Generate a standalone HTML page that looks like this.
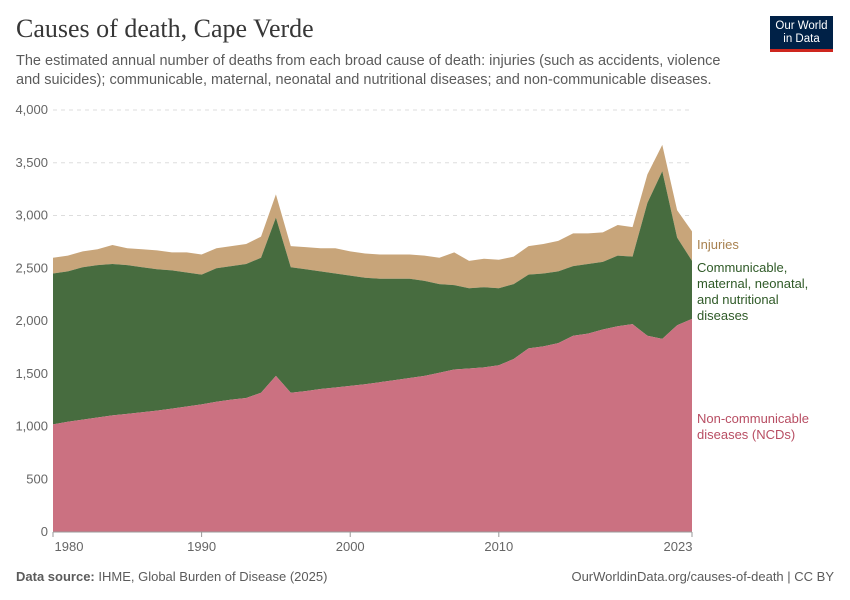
<!DOCTYPE html>
<html><head><meta charset="utf-8"><style>
body{margin:0;width:850px;height:600px;background:#fff;font-family:"Liberation Sans",sans-serif;overflow:hidden;position:relative}
.t{position:absolute}
</style></head><body>
<div class="t" style="left:16px;top:14px;font-family:'Liberation Serif',serif;font-size:26px;color:#373737">Causes of death, Cape Verde</div>
<div class="t" style="left:16px;top:52px;width:720px;font-size:14.5px;line-height:19px;color:#5b5b5b">The estimated annual number of deaths from each broad cause of death: injuries (such as accidents, violence and suicides); communicable, maternal, neonatal and nutritional diseases; and non-communicable diseases.</div>
<div class="t" style="left:770px;top:16px;width:63px;height:36px;background:#002147;border-bottom:3px solid #ce261e;color:#fff;font-size:11.5px;line-height:13px;text-align:center;padding-top:4px;box-sizing:border-box">Our World<br>in Data</div>
<svg id="c" width="850" height="600" style="position:absolute;left:0;top:0"></svg>
<div class="t" style="left:16px;top:569px;font-size:13px;color:#5b5b5b"><b>Data source:</b> IHME, Global Burden of Disease (2025)</div>
<div class="t" style="right:16px;top:569px;font-size:13px;color:#5b5b5b">OurWorldinData.org/causes-of-death | CC BY</div>
<script>
const years=[];for(let y=1980;y<=2023;y++)years.push(y);
const ncd=[1020,1045,1065,1085,1105,1120,1135,1150,1170,1190,1210,1235,1255,1270,1320,1480,1320,1335,1355,1370,1385,1400,1420,1440,1460,1480,1510,1540,1550,1560,1580,1640,1740,1760,1790,1860,1880,1920,1950,1970,1860,1830,1960,2020];
const comm=[1430,1425,1445,1445,1435,1410,1375,1340,1310,1270,1230,1265,1265,1270,1280,1500,1190,1155,1115,1080,1045,1010,980,960,940,900,840,800,760,760,730,710,700,690,680,660,660,640,670,640,1260,1590,830,550];
const inj=[150,150,150,150,180,160,170,180,170,190,190,190,190,190,200,220,200,210,220,240,230,230,230,230,230,240,250,310,260,270,270,260,270,280,290,310,290,280,290,280,270,250,260,280];
const yTicks=[0,500,1000,1500,2000,2500,3000,3500,4000];
const xTicks=[1980,1990,2000,2010,2023];
const NS='http://www.w3.org/2000/svg',svg=document.getElementById('c');
const X=y=>53+(y-1980)*(692-53)/43, Y=v=>532-v*(532-110)/4000;
function mk(t,a){const e=document.createElementNS(NS,t);for(const k in a)e.setAttribute(k,a[k]);svg.appendChild(e);return e;}
yTicks.forEach(v=>{
 const l=mk('line',{x1:53,x2:692,y1:Y(v),y2:Y(v),stroke:v?'#ddd':'#999','stroke-dasharray':v?'4,4':''});
 
 
 const t=mk('text',{x:48,y:Y(v)+4,'text-anchor':'end','font-size':13,fill:'#666','font-family':'Liberation Sans'});t.textContent=v.toLocaleString('en-US');
 
 
});
const s1=ncd,s2=ncd.map((v,i)=>v+comm[i]),s3=s2.map((v,i)=>v+inj[i]);
function area(top,bot,col,name){
 let d='M'+years.map((y,i)=>X(y)+','+Y(top[i])).join('L');
 for(let i=years.length-1;i>=0;i--)d+='L'+X(years[i])+','+Y(bot?bot[i]:0);
 const p=mk('path',{d:d+'Z',fill:col});
 
 
}
area(s3,s2,'#c8a57a','injuries-area');
area(s2,s1,'#476c3f','communicable-area');
area(s1,null,'#cb7181','ncd-area');
mk('line',{x1:53,x2:692,y1:532,y2:532,stroke:'#999'});
xTicks.forEach((y,i)=>{
 mk('line',{x1:X(y),x2:X(y),y1:532,y2:537,stroke:'#999'});
 const t=mk('text',{x:X(y)+(i==0?16:i==xTicks.length-1?-14:0),y:551,'text-anchor':'middle','font-size':13,fill:'#666','font-family':'Liberation Sans'});t.textContent=y;
 
 
});
function lab(lines,y,col,name){const t=mk('text',{x:697,y:y,'font-size':13,fill:col,'font-family':'Liberation Sans'});
 lines.forEach((s,i)=>{const ts=document.createElementNS(NS,'tspan');ts.setAttribute('x',697);ts.setAttribute('dy',i?16:0);ts.textContent=s;t.appendChild(ts);});
 
 }
lab(['Injuries'],249,'#a8814f','legend-injuries');
lab(['Communicable,','maternal, neonatal,','and nutritional','diseases'],272,'#2f5a27','legend-communicable');
lab(['Non-communicable','diseases (NCDs)'],423,'#b84e63','legend-ncd');
</script>
</body></html>
